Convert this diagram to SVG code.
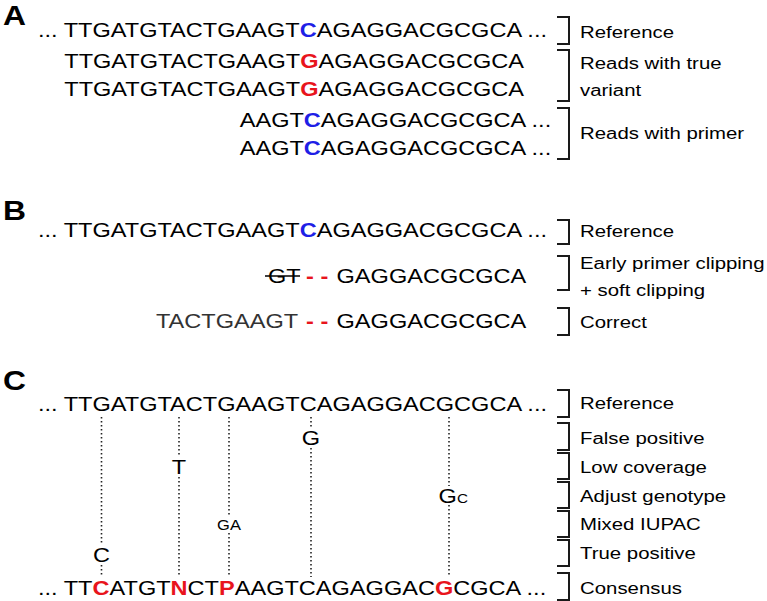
<svg xmlns="http://www.w3.org/2000/svg" width="767" height="601" viewBox="0 0 767 601">
<style>
.seq{font-family:"Liberation Sans",Arial,sans-serif;font-size:20px;fill:#000}
.lab{font-family:"Liberation Sans",Arial,sans-serif;font-size:17.3px;fill:#000}
.pan{font-family:"Liberation Sans",Arial,sans-serif;font-size:27px;font-weight:bold;fill:#000}
.sm{font-family:"Liberation Sans",Arial,sans-serif;font-size:14px;fill:#000}
.b{fill:#1f1fe6;font-weight:bold}
.r{fill:#e8141c;font-weight:bold}
.g{fill:#333}
.br{fill:none;stroke:#1a1a1a;stroke-width:2}
.dot{stroke:#222;stroke-width:1.6;stroke-dasharray:1.6 2.4;fill:none}
.st{stroke:#000;stroke-width:1.5}
</style>
<g id="connectors">
  <path class="br" d="M557,17 H569 V44 H557"/>
  <path class="br" d="M557,50 H569 V101 H557"/>
  <path class="br" d="M557,108 H569 V159 H557"/>
  <path class="br" d="M557,220 H569 V244 H557"/>
  <path class="br" d="M557,256 H569 V290 H557"/>
  <path class="br" d="M557,308 H569 V335 H557"/>
  <path class="br" d="M557,390 H569 V417 H557"/>
  <path class="br" d="M557,423 H569 V450 H557"/>
  <path class="br" d="M557,453 H569 V479 H557"/>
  <path class="br" d="M557,482 H569 V508 H557"/>
  <path class="br" d="M557,511 H569 V537 H557"/>
  <path class="br" d="M557,540 H569 V566 H557"/>
  <path class="br" d="M557,573 H569 V600 H557"/>
  <path class="dot" d="M101.5,417 V545 M101.5,565 V577"/>
  <path class="dot" d="M179,417 V456 M179,477 V577"/>
  <path class="dot" d="M229,417 V517 M229,533 V577"/>
  <path class="dot" d="M311,417 V429 M311,448 V577"/>
  <path class="dot" d="M449,417 V486 M449,505 V577"/>
  <line class="st" x1="265" y1="276" x2="300" y2="276"/>
</g>
<g transform="scale(1.178,1)">
  <g id="panelA">
    <text class="pan" x="2.5" y="25">A</text>
    <g id="A-ref"><text class="seq" x="32.26" y="37">... TTGATGTACTGAAGT<tspan class="b">C</tspan>AGAGGACGCGCA ...</text></g>
    <g id="A-read1"><text class="seq" x="54.58" y="68">TTGATGTACTGAAGT<tspan class="r">G</tspan>AGAGGACGCGCA</text></g>
    <g id="A-read2"><text class="seq" x="54.58" y="96">TTGATGTACTGAAGT<tspan class="r">G</tspan>AGAGGACGCGCA</text></g>
    <g id="A-read3"><text class="seq" x="203.5" y="127">AAGT<tspan class="b">C</tspan>AGAGGACGCGCA ...</text></g>
    <g id="A-read4"><text class="seq" x="203.5" y="155">AAGT<tspan class="b">C</tspan>AGAGGACGCGCA ...</text></g>
    <g id="A-labels">
      <text class="lab" x="492.4" y="38">Reference</text>
      <text class="lab" x="492.4" y="69">Reads with true</text>
      <text class="lab" x="492.4" y="96">variant</text>
      <text class="lab" x="492.4" y="139">Reads with primer</text>
    </g>
  </g>
  <g id="panelB">
    <text class="pan" x="2.5" y="220">B</text>
    <g id="B-ref"><text class="seq" x="32.26" y="237">... TTGATGTACTGAAGT<tspan class="b">C</tspan>AGAGGACGCGCA ...</text></g>
    <g id="B-clip">
      <text class="seq" x="227.5" y="283">GT</text>
      <text class="seq r" x="259.8" y="283">- -</text>
      <text class="seq" x="285.7" y="283">GAGGACGCGCA</text>
    </g>
    <g id="B-correct">
      <text class="seq g" x="132.4" y="328">TACTGAAGT</text>
      <text class="seq r" x="259.8" y="328">- -</text>
      <text class="seq" x="285.7" y="328">GAGGACGCGCA</text>
    </g>
    <g id="B-labels">
      <text class="lab" x="492.4" y="237">Reference</text>
      <text class="lab" x="492.4" y="269">Early primer clipping</text>
      <text class="lab" x="492.4" y="296">+ soft clipping</text>
      <text class="lab" x="492.4" y="328">Correct</text>
    </g>
  </g>
  <g id="panelC">
    <text class="pan" x="2.5" y="390">C</text>
    <g id="C-ref"><text class="seq" x="32.26" y="411">... TTGATGTACTGAAGTCAGAGGACGCGCA ...</text></g>
    <g id="C-fp"><text class="seq" x="264" y="445" text-anchor="middle">G</text></g>
    <g id="C-low"><text class="seq" x="152" y="474" text-anchor="middle">T</text></g>
    <g id="C-adj"><text class="seq" x="372.3" y="503">G<tspan font-size="13">C</tspan></text></g>
    <g id="C-mix"><text class="sm" x="194.4" y="530" text-anchor="middle">GA</text></g>
    <g id="C-tp"><text class="seq" x="86.2" y="562" text-anchor="middle">C</text></g>
    <g id="C-cons"><text class="seq" x="32.26" y="595">... TT<tspan class="r">C</tspan>ATGT<tspan class="r">N</tspan>CT<tspan class="r">P</tspan>AAGTCAGAGGAC<tspan class="r">G</tspan>CGCA ...</text></g>
    <g id="C-labels">
      <text class="lab" x="492.4" y="409">Reference</text>
      <text class="lab" x="492.4" y="444">False positive</text>
      <text class="lab" x="492.4" y="473">Low coverage</text>
      <text class="lab" x="492.4" y="502">Adjust genotype</text>
      <text class="lab" x="492.4" y="530">Mixed IUPAC</text>
      <text class="lab" x="492.4" y="559">True positive</text>
      <text class="lab" x="492.4" y="594">Consensus</text>
    </g>
  </g>
</g>
</svg>
